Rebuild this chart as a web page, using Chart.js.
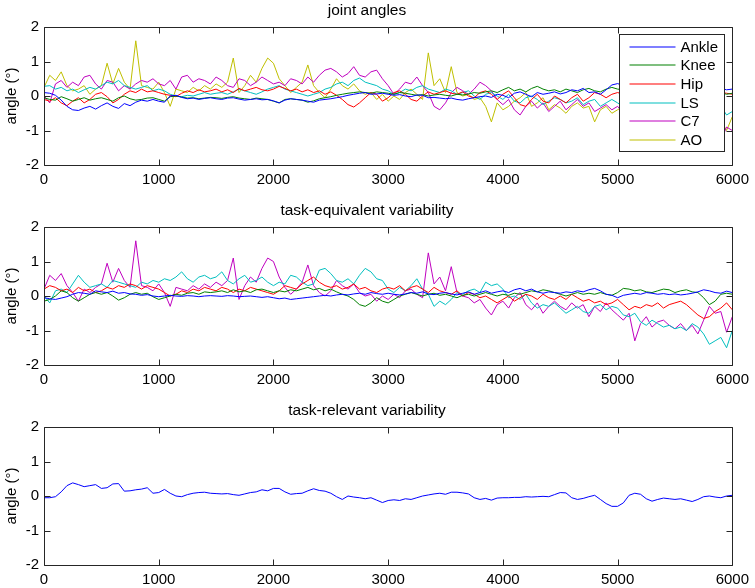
<!DOCTYPE html>
<html>
<head>
<meta charset="utf-8">
<script src="https://cdn.jsdelivr.net/npm/chart.js@4.4.1/dist/chart.umd.min.js"></script>
<style>
  html, body { margin: 0; padding: 0; background: #fff; }
  body { width: 755px; height: 588px; position: relative; overflow: hidden; }
  .panel { position: absolute; left: 0; width: 755px; }
</style>
</head>
<body>
<div class="panel" style="top:0;height:196px"><canvas id="joint"></canvas></div>
<div class="panel" style="top:200px;height:196px"><canvas id="equiv"></canvas></div>
<div class="panel" style="top:400px;height:188px"><canvas id="relevant"></canvas></div>
<script>
// sample positions along the trial (one reading every 50 samples)
var sampleStep = 50
var sampleCount = 121
var samples = []
for (var i = 0; i < sampleCount; i++) samples.push(i * sampleStep)

var xTicks = [0, 1000, 2000, 3000, 4000, 5000, 6000]
var yTicks = [-2, -1, 0, 1, 2]

var jointNames = ['Ankle', 'Knee', 'Hip', 'LS', 'C7', 'AO']
var panelTitles = ['joint angles', 'task-equivalent variability', 'task-relevant variability']

// joint angles
var ankleAngle = [
  0.10, 0.08, 0.02, -0.12, -0.30, -0.40, -0.42, -0.35, -0.30, -0.38,
  -0.28, -0.20, -0.30, -0.36, -0.22, -0.28, -0.18, -0.12, -0.15, -0.10,
  -0.15, -0.18, 0.00, 0.02, -0.04, -0.08, -0.06, -0.10, -0.07, -0.05,
  -0.08, -0.10, -0.06, -0.05, -0.09, -0.12, -0.10, -0.08, -0.11, -0.10,
  -0.14, -0.20, -0.12, -0.08, -0.10, -0.12, -0.15, -0.18, -0.12, -0.10,
  -0.08, -0.05, -0.02, 0.02, 0.05, 0.08, 0.10, 0.05, 0.06, 0.08,
  0.05, 0.02, 0.04, 0.00, -0.02, 0.03, 0.02, -0.05, -0.04, -0.06,
  -0.08, -0.06, -0.10, -0.12, -0.08, -0.05, -0.02, 0.00, -0.04, 0.05,
  0.02, -0.05, 0.08, 0.12, 0.05, -0.02, 0.10, 0.05, 0.08, 0.12,
  0.06, 0.10, 0.18, 0.15, 0.22, 0.10, 0.12, 0.05, 0.18, 0.32,
  0.36, 0.30, 0.25, 0.20, 0.22, 0.18, 0.15, 0.20, 0.25, 0.18,
  0.12, 0.15, 0.10, 0.05, 0.12, 0.18, 0.15, 0.20, 0.22, 0.18,
  0.20
]
var kneeAngle = [
  -0.05, -0.10, -0.12, -0.02, -0.08, -0.15, -0.10, -0.05, -0.12, -0.08,
  -0.05, -0.10, -0.15, -0.05, 0.00, -0.08, -0.12, -0.10, -0.06, -0.05,
  -0.10, -0.15, -0.02, 0.00, -0.03, -0.06, -0.05, -0.08, -0.06, -0.04,
  -0.05, -0.07, -0.04, -0.02, -0.06, -0.08, -0.10, -0.06, -0.08, -0.10,
  -0.15, -0.20, -0.10, -0.08, -0.10, -0.12, -0.18, -0.14, -0.08, -0.05,
  -0.02, 0.02, 0.05, 0.08, 0.10, 0.12, 0.10, 0.08, 0.12, 0.10,
  0.08, 0.05, 0.10, 0.08, 0.05, 0.02, 0.04, 0.00, 0.03, 0.05,
  0.02, 0.00, 0.05, 0.03, 0.06, 0.10, 0.08, 0.12, 0.15, 0.10,
  0.18, 0.25, 0.15, 0.20, 0.12, 0.22, 0.28, 0.20, 0.15, 0.18,
  0.12, 0.20, 0.15, 0.10, 0.18, 0.22, 0.15, 0.12, 0.20, 0.25,
  0.20, 0.18, 0.22, 0.15, 0.20, 0.25, 0.18, 0.12, 0.15, 0.20,
  0.10, 0.15, 0.12, 0.08, 0.15, 0.10, 0.12, 0.08, 0.10, 0.05,
  0.08
]
var hipAngle = [
  -0.10, -0.15, -0.05, -0.20, -0.28, -0.15, -0.05, -0.20, -0.10, 0.05,
  0.10, -0.02, -0.20, -0.10, 0.05, 0.15, 0.10, 0.20, 0.12, 0.15,
  0.10, 0.05, 0.02, -0.02, 0.08, 0.15, 0.10, 0.18, 0.12, 0.15,
  0.20, 0.12, 0.18, 0.10, 0.22, 0.15, 0.20, 0.25, 0.18, 0.15,
  0.20, 0.28, 0.22, 0.15, 0.20, 0.12, 0.18, 0.10, 0.15, 0.05,
  0.12, 0.02, -0.10, -0.25, -0.32, -0.20, -0.05, 0.10, 0.05, -0.15,
  -0.05, 0.10, 0.15, 0.05, -0.10, -0.15, 0.00, 0.12, 0.05, 0.10,
  0.15, 0.08, 0.05, 0.12, 0.00, -0.05, 0.10, 0.15, 0.05, -0.10,
  0.05, 0.15, -0.05, -0.25, -0.30, -0.10, 0.05, -0.15, -0.20, 0.00,
  -0.10, -0.20, -0.05, 0.05, -0.15, -0.05, 0.10, 0.05, -0.05, 0.05,
  0.10, 0.05, 0.00, -0.05, 0.05, 0.00, -0.10, -0.05, 0.05, 0.00,
  -0.05, 0.05, 0.10, 0.05, 0.00, 0.10, 0.05, 0.15, 0.10, 0.08,
  0.05
]
var lsAngle = [
  0.28, 0.30, 0.20, 0.25, 0.15, 0.20, 0.10, 0.18, 0.25, 0.20,
  0.30, 0.40, 0.35, 0.45, 0.30, 0.25, 0.20, 0.25, 0.30, 0.15,
  0.20, 0.15, 0.05, 0.00, -0.02, 0.02, 0.00, 0.05, 0.10, 0.05,
  0.08, 0.10, 0.05, 0.12, 0.20, 0.15, 0.10, 0.05, 0.12, 0.20,
  0.25, 0.30, 0.20, 0.15, 0.10, 0.05, 0.00, 0.05, 0.10, 0.20,
  0.25, 0.35, 0.40, 0.30, 0.45, 0.52, 0.40, 0.35, 0.30, 0.20,
  0.15, 0.05, 0.10, 0.20, 0.15, 0.25, 0.30, 0.20, 0.15, 0.10,
  0.20, 0.15, 0.05, 0.10, 0.15, 0.00, -0.10, 0.05, 0.10, 0.00,
  -0.10, 0.05, -0.15, -0.20, -0.05, 0.00, -0.10, -0.25, -0.15, -0.05,
  -0.10, -0.20, -0.15, -0.05, -0.25, -0.15, -0.10, -0.30, -0.20, -0.10,
  -0.20, -0.30, -0.15, -0.25, -0.35, -0.20, -0.30, -0.40, -0.25, -0.35,
  -0.45, -0.30, -0.40, -0.50, -0.35, -0.45, -0.60, -0.40, -0.30, -0.55,
  -0.45
]
var c7Angle = [
  0.00, -0.20, 0.35, 0.45, 0.25, 0.40, 0.30, 0.55, 0.60, 0.35,
  0.20, 0.45, 0.40, 0.15, 0.30, 0.20, 0.35, 0.45, 0.40, 0.50,
  0.35, 0.30, 0.45, 0.20, 0.55, 0.60, 0.40, 0.50, 0.45, 0.35,
  0.55, 0.45, 0.30, 0.25, 0.50, 0.45, 0.30, 0.40, 0.55, 0.45,
  0.35, 0.40, 0.30, 0.50, 0.45, 0.35, 0.55, 0.40, 0.60, 0.75,
  0.80, 0.70, 0.55, 0.65, 0.85, 0.60, 0.55, 0.70, 0.75, 0.50,
  0.30, 0.05, 0.20, 0.40, 0.35, 0.55, 0.30, 0.10, -0.30, -0.40,
  -0.20, 0.10, 0.25, 0.15, 0.05, 0.20, 0.40, 0.30, 0.15, -0.10,
  -0.25, -0.10, -0.40, -0.55, -0.30, -0.15, -0.35, -0.20, -0.45, -0.30,
  -0.15, -0.40, -0.25, -0.10, -0.30, -0.20, -0.45, -0.35, -0.25, -0.40,
  -0.30, -0.50, -0.40, -0.60, -0.45, -0.55, -0.70, -0.50, -0.60, -0.75,
  -0.65, -0.80, -0.60, -0.90, -0.75, -0.85, -1.00, -0.80, -1.30, -0.90,
  -1.00
]
var aoAngle = [
  0.25, 0.60, 0.45, 0.70, 0.30, 0.15, 0.20, 0.30, 0.05, 0.20,
  0.30, 0.95, 0.35, 0.80, 0.40, 0.20, 1.60, 0.30, 0.25, 0.20,
  0.40, 0.10, -0.30, 0.20, 0.15, 0.10, 0.25, 0.15, 0.30, 0.20,
  0.35, 0.25, 0.40, 1.10, 0.10, 0.30, 0.60, 0.40, 0.80, 1.10,
  0.95, 0.50, 0.30, 0.10, 0.25, 0.40, 0.90, 0.30, 0.10, -0.05,
  0.20, 0.50, 0.30, 0.20, 0.35, 0.15, 0.05, 0.10, -0.10, 0.05,
  -0.15, 0.00, -0.10, 0.10, 0.20, 0.05, -0.10, 1.25, 0.30, 0.50,
  0.10, 0.85, 0.10, 0.00, 0.05, -0.10, -0.05, -0.30, -0.75, -0.20,
  -0.40, -0.30, -0.15, -0.05, 0.10, -0.30, -0.20, -0.05, -0.40, -0.25,
  -0.35, -0.50, -0.30, -0.20, -0.35, -0.30, -0.75, -0.40, -0.30, -0.50,
  -0.40, -0.30, -0.55, -0.45, -0.35, -0.60, -0.50, -0.40, -0.65, -0.55,
  -0.45, -0.70, -0.60, -0.50, -0.75, -0.65, -0.55, -0.80, -0.70, -1.00,
  -0.60
]

// task-equivalent variability (five components)
var ankleEquiv = [
  -0.05, -0.08, -0.10, -0.06, -0.02, 0.05, 0.10, 0.08, 0.05, 0.15,
  0.12, 0.10, 0.14, 0.08, 0.10, 0.06, 0.05, 0.02, 0.04, 0.00,
  -0.02, 0.00, 0.02, 0.00, -0.01, 0.01, 0.00, -0.02, 0.00, 0.01,
  0.00, -0.01, 0.01, 0.00, -0.02, -0.01, 0.00, -0.02, -0.04, -0.02,
  -0.05, -0.08, -0.06, -0.10, -0.08, -0.06, -0.04, -0.02, 0.00, 0.02,
  0.00, 0.03, 0.05, 0.03, 0.06, 0.08, 0.05, 0.10, 0.07, 0.05,
  0.08, 0.05, 0.03, 0.06, 0.10, 0.08, 0.12, 0.06, 0.04, 0.08,
  0.10, 0.06, 0.03, 0.08, 0.12, 0.05, 0.10, 0.15, 0.08, 0.12,
  0.15, 0.10, 0.18, 0.22, 0.15, 0.20, 0.12, 0.08, 0.12, 0.10,
  0.08, 0.12, 0.10, 0.15, 0.12, 0.18, 0.22, 0.15, 0.05, 0.02,
  -0.05, 0.02, 0.05, 0.08, 0.05, 0.10, 0.08, 0.05, 0.07, 0.04,
  0.06, 0.03, 0.05, 0.08, 0.12, 0.18, 0.15, 0.10, 0.08, 0.14,
  0.10
]
var kneeEquiv = [
  -0.15, -0.10, 0.00, 0.15, 0.10, -0.05, -0.15, -0.05, 0.05, 0.10,
  0.05, 0.10, 0.00, -0.12, -0.05, 0.05, 0.10, 0.05, 0.08, -0.02,
  -0.10, -0.05, 0.00, 0.05, 0.02, 0.08, 0.10, 0.05, 0.12, 0.10,
  0.12, 0.15, 0.10, 0.18, 0.12, 0.15, 0.10, 0.18, 0.20, 0.15,
  0.10, 0.15, 0.12, 0.18, 0.15, 0.20, 0.25, 0.18, 0.22, 0.15,
  0.20, 0.12, 0.05, 0.00, -0.10, -0.25, -0.30, -0.20, -0.05, -0.15,
  -0.20, -0.10, 0.00, 0.05, 0.10, 0.05, 0.00, 0.05, 0.08, 0.02,
  0.05, 0.00, -0.05, 0.02, 0.05, 0.00, 0.05, 0.10, 0.05, 0.00,
  0.05, 0.02, 0.08, 0.05, 0.10, 0.15, 0.12, 0.18, 0.15, 0.10,
  0.05, 0.00, 0.05, 0.10, 0.05, 0.08, 0.05, 0.10, 0.05, 0.02,
  0.10, 0.22, 0.20, 0.15, 0.18, 0.12, 0.10, 0.15, 0.20, 0.18,
  0.10, 0.15, 0.18, 0.12, 0.10, -0.05, -0.25, -0.15, 0.05, 0.08,
  0.05
]
var hipEquiv = [
  0.20, 0.30, 0.25, 0.15, 0.20, 0.10, 0.25, 0.15, 0.20, 0.10,
  0.15, 0.25, 0.20, 0.30, 0.25, 0.35, 0.30, 0.20, 0.30, 0.25,
  0.20, 0.10, 0.00, 0.05, 0.15, 0.10, 0.20, 0.15, 0.25, 0.20,
  0.15, 0.25, 0.20, 0.10, 0.20, 0.15, 0.25, 0.20, 0.15, 0.10,
  0.05, 0.15, 0.30, 0.25, 0.20, 0.35, 0.45, 0.55, 0.40, 0.30,
  0.25, 0.30, 0.20, 0.25, 0.35, 0.20, 0.25, 0.15, 0.10, 0.20,
  0.25, 0.20, 0.30, 0.15, 0.25, 0.30, 0.20, 0.10, 0.25, 0.15,
  0.10, 0.05, 0.15, 0.00, 0.10, 0.05, -0.05, 0.00, -0.10, -0.20,
  -0.10, 0.00, -0.15, -0.05, 0.05, 0.00, -0.10, 0.05, -0.05, -0.10,
  0.00, -0.10, 0.05, -0.05, -0.15, -0.10, -0.20, -0.15, -0.25, -0.20,
  -0.10, -0.25, -0.40, -0.30, -0.35, -0.25, -0.30, -0.20, -0.35, -0.25,
  -0.20, -0.15, -0.25, -0.40, -0.55, -0.65, -0.60, -0.45, -0.35, -0.20,
  -0.40
]
var lsEquiv = [
  0.00, -0.20, 0.15, 0.20, 0.10, 0.35, 0.60, 0.40, 0.25, 0.30,
  0.35, 0.25, 0.45, 0.40, 0.35, 0.30, 0.25, 0.40, 0.35, 0.45,
  0.40, 0.50, 0.45, 0.55, 0.70, 0.50, 0.40, 0.55, 0.60, 0.50,
  0.55, 0.70, 0.45, 0.35, 0.50, 0.60, 0.40, 0.45, 0.55, 0.40,
  0.30, 0.40, 0.35, 0.60, 0.55, 0.40, 0.30, 0.35, 0.75, 0.80,
  0.65, 0.45, 0.40, 0.50, 0.35, 0.60, 0.80, 0.70, 0.50, 0.45,
  0.20, 0.10, 0.25, 0.15, 0.30, 0.50, 0.20, 0.05, -0.30, -0.15,
  -0.25, -0.10, 0.10, 0.05, 0.15, 0.20, 0.10, 0.40, 0.30, 0.35,
  0.20, -0.05, 0.00, -0.10, 0.05, -0.20, -0.35, -0.25, -0.30, -0.20,
  -0.35, -0.50, -0.40, -0.30, -0.45, -0.50, -0.30, -0.25, -0.40, -0.30,
  -0.35, -0.55, -0.60, -0.50, -0.75, -0.85, -0.70, -0.80, -0.90, -0.85,
  -0.95, -0.90, -1.00, -0.80, -0.90, -1.10, -1.40, -1.30, -1.20, -1.50,
  -1.00
]
var c7Equiv = [
  0.20, 0.60, 0.45, 0.65, 0.30, 0.10, -0.15, 0.20, 0.10, 0.25,
  0.35, 0.95, 0.40, 0.80, 0.45, 0.25, 1.60, 0.30, 0.25, 0.15,
  0.35, 0.10, -0.30, 0.25, 0.20, 0.15, 0.30, 0.20, 0.35, 0.25,
  0.40, 0.30, 0.45, 1.10, -0.10, 0.30, 0.55, 0.40, 0.80, 1.10,
  1.00, 0.55, 0.25, 0.05, 0.20, 0.40, 0.90, 0.30, 0.10, 0.00,
  0.15, 0.45, 0.30, 0.20, 0.35, 0.10, 0.00, 0.05, -0.15, 0.00,
  -0.10, 0.05, -0.05, 0.15, 0.20, 0.05, -0.05, 1.25, 0.35, 0.55,
  0.15, 0.85, 0.10, 0.00, -0.05, -0.20, -0.10, -0.35, -0.55, -0.25,
  -0.15, -0.35, -0.05, 0.10, -0.25, -0.40, -0.20, -0.50, -0.30, -0.15,
  -0.30, -0.40, -0.20, -0.35, -0.25, -0.60, -0.30, -0.45, -0.20, -0.40,
  -0.55, -0.70, -0.50, -1.30, -0.80, -0.60, -0.90, -0.75, -0.70, -0.85,
  -0.95, -0.80, -1.00, -0.85, -1.10, -0.70, -0.30, -0.50, -0.45, -1.05,
  -0.60
]

// task-relevant variability
var relevantVar = [
  -0.05, -0.05, -0.02, 0.12, 0.30, 0.38, 0.33, 0.27, 0.30, 0.33,
  0.22, 0.24, 0.35, 0.36, 0.14, 0.15, 0.18, 0.20, 0.24, 0.08,
  0.10, 0.19, 0.08, 0.00, -0.02, 0.04, 0.08, 0.10, 0.11, 0.08,
  0.07, 0.06, 0.07, 0.04, 0.02, 0.06, 0.10, 0.12, 0.18, 0.15,
  0.22, 0.22, 0.12, 0.05, 0.07, 0.08, 0.15, 0.21, 0.16, 0.14,
  0.08, -0.02, -0.10, 0.00, -0.03, -0.05, -0.08, -0.05, -0.12, -0.19,
  -0.13, -0.11, -0.13, -0.08, -0.10, -0.05, 0.00, 0.03, 0.06, 0.08,
  0.05, 0.11, 0.11, 0.09, 0.06, -0.05, -0.10, -0.07, -0.12, -0.06,
  -0.05, -0.05, -0.04, -0.04, -0.02, -0.03, -0.02, -0.01, -0.02, 0.04,
  0.10, 0.09, -0.05, -0.10, -0.07, -0.02, 0.02, -0.10, -0.22, -0.30,
  -0.30, -0.20, 0.02, 0.08, 0.05, -0.08, -0.15, -0.10, -0.06, -0.08,
  -0.10, -0.08, -0.12, -0.16, -0.10, -0.02, 0.00, -0.03, -0.05, 0.00,
  0.02
]

var lineColors = ['#0000ff', '#008000', '#ff0000', '#00bfbf', '#bf00bf', '#bfbf00']
var axisColor = '#262626'
var fontFamily = '"Liberation Sans", Arial, Helvetica, sans-serif'
var tickLen = 6

// MATLAB style box with inward ticks on all four sides
var axesBox = {
  id: 'axesBox',
  afterDatasetsDraw: function(chart) {
    var ctx = chart.ctx
    var a = chart.chartArea
    var xs = chart.scales.x
    var ys = chart.scales.y
    var l = Math.round(a.left) + 0.5, r = Math.round(a.right) + 0.5
    var t = Math.round(a.top) + 0.5, b = Math.round(a.bottom) + 0.5
    ctx.save()
    ctx.strokeStyle = axisColor
    ctx.lineWidth = 1
    ctx.beginPath()
    ctx.rect(l, t, r - l, b - t)
    xs.ticks.forEach(function(tk) {
      var px = Math.round(xs.getPixelForValue(tk.value)) + 0.5
      ctx.moveTo(px, b); ctx.lineTo(px, b - tickLen)
      ctx.moveTo(px, t); ctx.lineTo(px, t + tickLen)
    })
    ys.ticks.forEach(function(tk) {
      var py = Math.round(ys.getPixelForValue(tk.value)) + 0.5
      ctx.moveTo(l, py); ctx.lineTo(l + tickLen, py)
      ctx.moveTo(r, py); ctx.lineTo(r - tickLen, py)
    })
    ctx.stroke()
    ctx.restore()
  }
}

// boxed legend in the upper right corner of the axes
var legendBox = {
  id: 'legendBox',
  afterDatasetsDraw: function(chart) {
    var ctx = chart.ctx
    var a = chart.chartArea
    var left = Math.round(a.right) - 112.5
    var top = Math.round(a.top) + 7.5
    var w = 105, h = 117, row = 18.67
    ctx.save()
    ctx.fillStyle = '#fff'
    ctx.fillRect(left, top, w, h)
    ctx.strokeStyle = axisColor
    ctx.lineWidth = 1
    ctx.strokeRect(left, top, w, h)
    ctx.font = '15px ' + fontFamily
    ctx.textBaseline = 'middle'
    ctx.textAlign = 'left'
    chart.data.datasets.forEach(function(ds, i) {
      var y = Math.round(top + 12 + i * row)
      ctx.strokeStyle = lineColors[i]
      ctx.lineWidth = 1.2
      ctx.beginPath()
      ctx.moveTo(left + 10, y)
      ctx.lineTo(left + 56, y)
      ctx.stroke()
      ctx.fillStyle = '#000'
      ctx.fillText(ds.label, left + 61, y + 1)
    })
    ctx.restore()
  }
}

function plainNumber(v) { return String(v) }

function makePanel(id, title, series, withLegend, panelHeight) {
  var datasets = series.map(function(values, i) {
    return {
      label: jointNames[i],
      data: values,
      borderColor: lineColors[i],
      borderWidth: 1,
      pointRadius: 0,
      tension: 0,
      fill: false,
    }
  })
  var plugins = [axesBox]
  if (withLegend) plugins.push(legendBox)
  return new Chart(document.getElementById(id).getContext('2d'), {
    type: 'line',
    data: { labels: samples, datasets: datasets },
    plugins: plugins,
    options: {
      responsive: true,
      maintainAspectRatio: false,
      devicePixelRatio: 1,
      animation: false,
      events: [],
      layout: { padding: { top: 0, left: 0, right: 21, bottom: 0 } },
      plugins: {
        legend: { display: false },
        tooltip: { enabled: false },
        title: {
          display: true,
          text: title,
          color: '#000',
          font: { family: fontFamily, size: 15.5, weight: 'normal', lineHeight: 1.2 },
          padding: { top: 1, bottom: 7.4 },
        },
      },
      scales: {
        x: {
          type: 'linear',
          min: 0,
          max: 6000,
          afterBuildTicks: function(scale) {
            scale.ticks = xTicks.map(function(v) { return { value: v } })
          },
          afterFit: function(scale) { scale.height = panelHeight - 27 - 138 },
          grid: { display: false, drawTicks: false },
          border: { display: false },
          ticks: {
            color: '#000',
            font: { family: fontFamily, size: 15 },
            padding: 6,
            maxRotation: 0,
            autoSkip: false,
            callback: plainNumber,
          },
        },
        y: {
          min: -2,
          max: 2,
          afterBuildTicks: function(scale) {
            scale.ticks = yTicks.map(function(v) { return { value: v } })
          },
          afterFit: function(scale) { scale.width = 44 },
          grid: { display: false, drawTicks: false },
          border: { display: false },
          ticks: {
            color: '#000',
            font: { family: fontFamily, size: 15 },
            padding: 5,
            callback: plainNumber,
          },
          title: {
            display: true,
            text: 'angle (°)',
            color: '#000',
            font: { family: fontFamily, size: 15, lineHeight: 1.2 },
            padding: { top: 3, bottom: 0 },
          },
        },
      },
    },
  })
}

makePanel('joint', panelTitles[0],
  [ankleAngle, kneeAngle, hipAngle, lsAngle, c7Angle, aoAngle], true, 196)
makePanel('equiv', panelTitles[1],
  [ankleEquiv, kneeEquiv, hipEquiv, lsEquiv, c7Equiv], false, 196)
makePanel('relevant', panelTitles[2], [relevantVar], false, 188)
</script>
</body>
</html>
